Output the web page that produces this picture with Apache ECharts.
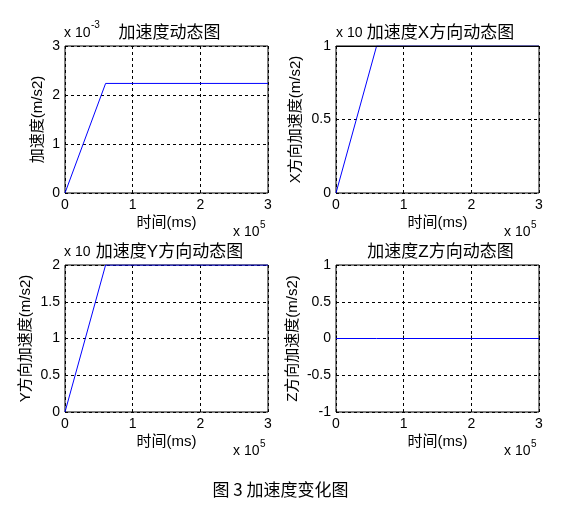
<!DOCTYPE html>
<html><head><meta charset="utf-8">
<script src="https://cdn.jsdelivr.net/npm/echarts@6/dist/echarts.min.js"></script>
<style>html,body{margin:0;padding:0;background:#fff}#c{width:561px;height:525px}</style>
</head><body><div id="c"></div>
<script>
// time in units of 10^5 ms, accelerations in units of 10^-3 m/s2 (Z in m/s2)
var time = [0, 0.6, 3];
var accMag = [0, 2.236, 2.236];
var accX = [0, 1, 1];
var accY = [0, 2, 2];
var accZ = [0, 0, 0];
var titles = ['加速度动态图', '加速度X方向动态图', '加速度Y方向动态图', '加速度Z方向动态图'];
var yNames = ['加速度(m/s2)', 'X方向加速度(m/s2)', 'Y方向加速度(m/s2)', 'Z方向加速度(m/s2)'];
var xName = '时间(ms)';
var yRanges = [[0, 3, 1], [0, 1, 0.5], [0, 2, 0.5], [-1, 1, 0.5]];
var xRange = [0, 3, 1];
var caption = '图 3 加速度变化图';

var FONT = '"Liberation Sans", Arial, "Noto Sans CJK SC", sans-serif';
var chart = echarts.init(document.getElementById('c'));
var lefts = [65, 336], tops = [46, 265], W = 203, H = 147;
var nameGaps = [20, 33, 32, 36];
var grids = [], xAxes = [], yAxes = [], series = [], titleArr = [], graphics = [];
var datas = [accMag, accX, accY, accZ];
for (var i = 0; i < 4; i++) {
  var col = i % 2, row = Math.floor(i / 2);
  var L = lefts[col], T = tops[row];
  grids.push({left: L, top: T, width: W, height: H, show: true, borderColor: '#000', borderWidth: 1,
    backgroundColor: 'transparent'});
  xAxes.push({type: 'value', gridIndex: i, min: xRange[0], max: xRange[1], interval: xRange[2],
    name: xName, nameLocation: 'middle', nameGap: 22,
    nameTextStyle: {fontFamily: FONT, fontSize: 15, color: '#000'},
    axisLine: {show: false}, axisTick: {show: true, inside: true, length: 3, lineStyle: {color: '#000'}},
    axisLabel: {margin: 5, fontFamily: FONT, fontSize: 14, color: '#000'},
    splitLine: {show: true, lineStyle: {color: '#000', type: [3, 3], width: 1}}});
  var yr = yRanges[i];
  yAxes.push({type: 'value', gridIndex: i, min: yr[0], max: yr[1], interval: yr[2],
    name: yNames[i], nameLocation: 'middle', nameGap: nameGaps[i], nameRotate: 90,
    nameTextStyle: {fontFamily: FONT, fontSize: 15, color: '#000'},
    axisLine: {show: false}, axisTick: {show: true, inside: true, length: 3, lineStyle: {color: '#000'}},
    axisLabel: {margin: 5, fontFamily: FONT, fontSize: 14, color: '#000'},
    splitLine: {show: true, lineStyle: {color: '#000', type: [3, 3], width: 1}}});
  var d = datas[i];
  series.push({type: 'line', xAxisIndex: i, yAxisIndex: i, showSymbol: false, symbol: 'none',
    clip: true, animation: false, z: 2,
    lineStyle: {color: '#0000ff', width: 1},
    data: time.map(function (t, k) { return [t, d[k]]; })});
  titleArr.push({text: titles[i], left: L + W / 2 - 2, top: T - 26, textAlign: 'center',
    textStyle: {fontFamily: FONT, fontSize: 17, fontWeight: 'normal', color: '#000'}});
  // x 10^5 label
  graphics.push({type: 'text', left: L + 168, top: T + 179, z: 10,
    style: {text: 'x 10', fontFamily: FONT, fontSize: 14, fill: '#000'}});
  graphics.push({type: 'text', left: L + 195, top: T + 174, z: 10,
    style: {text: '5', fontFamily: FONT, fontSize: 10, fill: '#000'}});
}
// black top border over the clipped X-direction line
xAxes.push({type: 'value', gridIndex: 1, position: 'top', min: xRange[0], max: xRange[1], z: 10,
  axisLine: {show: true, lineStyle: {color: '#000', width: 1}},
  axisTick: {show: false}, axisLabel: {show: false}, splitLine: {show: false}});
// y exponent labels
graphics.push({type: 'text', left: 64, top: 26, z: 1, style: {text: 'x 10', fontFamily: FONT, fontSize: 14, fill: '#000'}});
graphics.push({type: 'text', left: 91, top: 20, z: 1, style: {text: '-3', fontFamily: FONT, fontSize: 10, fill: '#000'}});
graphics.push({type: 'text', left: 336, top: 26, z: 1, style: {text: 'x 10', fontFamily: FONT, fontSize: 14, fill: '#000'}});
graphics.push({type: 'text', left: 64, top: 245, z: 1, style: {text: 'x 10', fontFamily: FONT, fontSize: 14, fill: '#000'}});
graphics.push({type: 'text', left: 'center', top: 481, z: 10,
  style: {text: caption, fontFamily: '"Noto Sans CJK SC", sans-serif', fontSize: 17, fill: '#000'}});

chart.setOption({
  animation: false,
  backgroundColor: '#fff',
  title: titleArr,
  grid: grids, xAxis: xAxes, yAxis: yAxes, series: series,
  graphic: graphics
});
</script></body></html>
